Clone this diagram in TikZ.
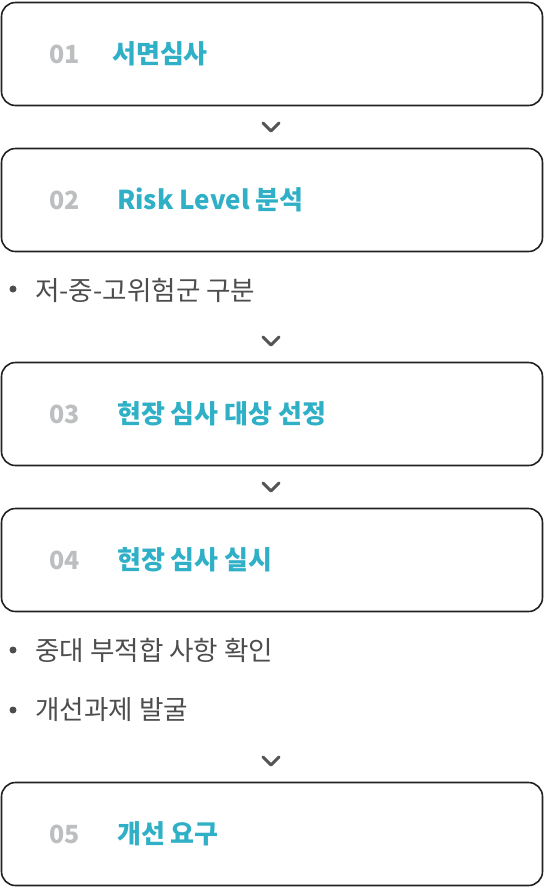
\documentclass[tikz,border=0pt]{standalone}
\usepackage{fontspec}
\setmainfont{Noto Sans CJK KR}
\usepackage{xcolor}
\usepackage{tikz}
\usetikzlibrary{positioning}
\definecolor{frame}{HTML}{222222}
\definecolor{teal}{HTML}{2FB0C6}
\definecolor{numgray}{HTML}{BCBEC0}
\definecolor{ink}{HTML}{4D4D4D}
\definecolor{chevgray}{HTML}{555555}
\tikzset{
  stepbox/.style={draw=frame,line width=1.6pt,rounded corners=14pt,minimum width=541pt,minimum height=103pt,inner sep=0pt},
  stepnum/.style={anchor=west,inner sep=0pt,text=numgray,font=\bfseries\fontsize{25pt}{25pt}\selectfont},
  steptitle/.style={anchor=west,inner sep=0pt,text=teal,font=\bfseries\fontsize{26pt}{26pt}\selectfont},
  note/.style={anchor=west,inner sep=0pt,text=ink,font=\fontsize{26.6pt}{26.6pt}\selectfont},
  chev/.style={draw=chevgray,line width=3pt,line cap=round,line join=round}
}
\begin{document}
\begin{tikzpicture}[x=1pt,y=-1pt]
  \useasboundingbox (0,0) rectangle (544,887);
  % steps
  \node[stepbox] (s1) at (272,54) {};
  \node[stepbox] (s2) at (272,200) {};
  \node[stepbox] (s3) at (272,414) {};
  \node[stepbox] (s4) at (272,560) {};
  \node[stepbox] (s5) at (272,834) {};
  \node[stepnum] (n1) at (49,54) {01};
  \node[stepnum] (n2) at (49,200) {02};
  \node[stepnum] (n3) at (49,414) {03};
  \node[stepnum] (n4) at (49,560) {04};
  \node[stepnum] (n5) at (49,834) {05};
  \node[steptitle] (t1) at (112,54) {서면심사};
  \node[steptitle] (t2) at (117,200) {Risk Level 분석};
  \node[steptitle] (t3) at (117,414) {현장 심사 대상 선정};
  \node[steptitle] (t4) at (117,560) {현장 심사 실시};
  \node[steptitle] (t5) at (117,834) {개선 요구};
  % notes
  \node[note] (b1) at (35,290) {저-중-고위험군 구분};
  \node[note] (b2) at (35,650) {중대 부적합 사항 확인};
  \node[note] (b3) at (35,710) {개선과제 발굴};
  \foreach \y in {289,650,710} \fill[ink] (13,\y) circle (3.5pt);
  % chevrons
  \foreach \y in {127,341,487,761} \draw[chev] (263,\y-4) -- (271,\y+4) -- (279,\y-4);
\end{tikzpicture}
\end{document}
